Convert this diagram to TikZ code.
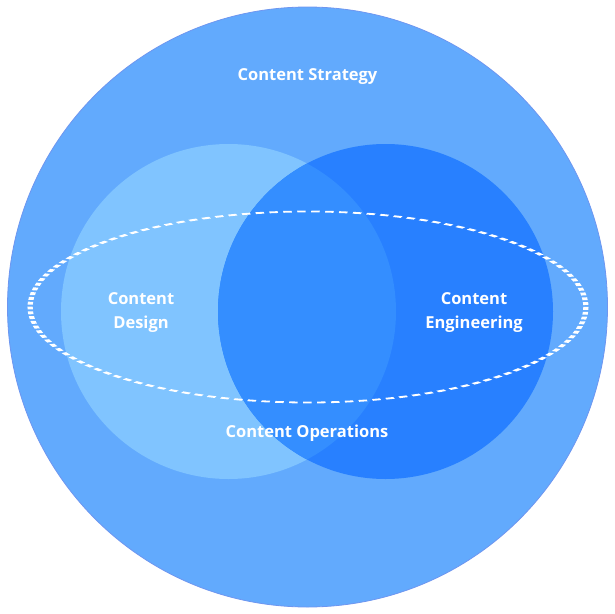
\documentclass[tikz,border=0pt]{standalone}
\usepackage{fontspec}
\setmainfont{Open Sans}
\begin{document}
\begin{tikzpicture}[x=1pt,y=-1pt,
  lbl/.style={text=white,font=\bfseries\fontsize{16.5}{24}\selectfont,align=center,inner sep=0pt},
  ring/.style={circle,inner sep=0pt,minimum size=#1}]
\useasboundingbox (0,0) rectangle (614,614);
\definecolor{outerblue}{RGB}{98,170,253}
\definecolor{outeredge}{RGB}{110,150,240}
\definecolor{lightblue}{RGB}{128,196,255}
\definecolor{darkblue}{RGB}{40,128,255}
\definecolor{midblue}{RGB}{52,142,255}
\node[ring=600pt,fill=outerblue,draw=outeredge,line width=0.8pt] (strategy) at (307.5,307) {};
\node[ring=335pt,fill=lightblue] (design) at (228.5,311.5) {};
\node[ring=335pt,fill=darkblue] (engineering) at (385.5,311.5) {};
\begin{scope}
  \clip (228.5,311.5) circle (167.5);
  \fill[midblue] (385.5,311.5) circle (167.5);
\end{scope}
\begin{scope}[transform canvas={shift={(308pt,-307pt)},xscale=2.91}]
  \draw[white,line width=1.8pt,dash pattern=on 2.9pt off 1.9pt] (0,0) circle (95.5);
\end{scope}
\node[lbl] (tstrategy) at (307.5,77) {Content Strategy};
\node[lbl] (tdesign) at (141,313) {Content\\Design};
\node[lbl] (tengineering) at (474,313) {Content\\Engineering};
\node[lbl] (toperations) at (307,433) {Content Operations};
\end{tikzpicture}
\end{document}
